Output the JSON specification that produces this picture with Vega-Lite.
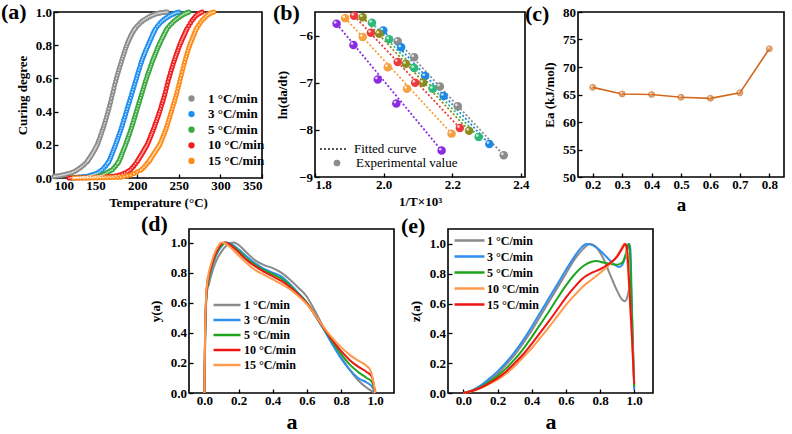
{
  "$schema": "https://vega.github.io/schema/vega-lite/v6.json",
  "background": "white",
  "padding": {"left": 0, "top": 0, "right": 0, "bottom": 0},
  "config": {
    "font": "Liberation Serif",
    "view": {"stroke": "black", "strokeWidth": 1.6},
    "axis": {
      "domain": false, "grid": false, "ticks": true, "tickColor": "black", "tickWidth": 1.3, "tickSize": -4,
      "labelFont": "Liberation Serif", "labelFontWeight": "bold", "labelFontSize": 13, "labelColor": "black", "labelPadding": 5,
      "titleFont": "Liberation Serif", "titleFontWeight": "bold", "titleFontSize": 13, "titleColor": "black", "titlePadding": 4
    },
    "axisY": {"labelPadding": 6.5, "titlePadding": 6},
    "legend": {
      "title": null, "orient": "none", "labelFont": "Liberation Serif", "labelFontWeight": "bold", "labelFontSize": 13,
      "labelColor": "black", "rowPadding": 1.6, "padding": 0
    },
    "title": {"font": "Liberation Serif", "fontWeight": "bold", "fontSize": 22, "color": "black", "anchor": "start", "frame": "group", "offset": 0}
  },
  "datasets": {
    "cure": [
      {"r":"1 °C/min","T":100,"a":0.010},{"r":"1 °C/min","T":102,"a":0.011},{"r":"1 °C/min","T":104,"a":0.012},{"r":"1 °C/min","T":106,"a":0.014},
      {"r":"1 °C/min","T":108,"a":0.015},{"r":"1 °C/min","T":110,"a":0.018},{"r":"1 °C/min","T":112,"a":0.020},{"r":"1 °C/min","T":114,"a":0.022},
      {"r":"1 °C/min","T":116,"a":0.025},{"r":"1 °C/min","T":118,"a":0.027},{"r":"1 °C/min","T":120,"a":0.030},{"r":"1 °C/min","T":122,"a":0.034},
      {"r":"1 °C/min","T":124,"a":0.038},{"r":"1 °C/min","T":126,"a":0.043},{"r":"1 °C/min","T":128,"a":0.050},{"r":"1 °C/min","T":130,"a":0.057},
      {"r":"1 °C/min","T":132,"a":0.064},{"r":"1 °C/min","T":134,"a":0.072},{"r":"1 °C/min","T":136,"a":0.080},{"r":"1 °C/min","T":138,"a":0.090},
      {"r":"1 °C/min","T":140,"a":0.100},{"r":"1 °C/min","T":141,"a":0.107},{"r":"1 °C/min","T":142,"a":0.115},{"r":"1 °C/min","T":143,"a":0.122},
      {"r":"1 °C/min","T":144,"a":0.130},{"r":"1 °C/min","T":145,"a":0.138},{"r":"1 °C/min","T":146,"a":0.146},{"r":"1 °C/min","T":147,"a":0.154},
      {"r":"1 °C/min","T":148,"a":0.163},{"r":"1 °C/min","T":149,"a":0.172},{"r":"1 °C/min","T":150,"a":0.181},{"r":"1 °C/min","T":151,"a":0.190},
      {"r":"1 °C/min","T":152,"a":0.200},{"r":"1 °C/min","T":153,"a":0.213},{"r":"1 °C/min","T":154,"a":0.227},{"r":"1 °C/min","T":155,"a":0.241},
      {"r":"1 °C/min","T":156,"a":0.255},{"r":"1 °C/min","T":157,"a":0.269},{"r":"1 °C/min","T":158,"a":0.284},{"r":"1 °C/min","T":159,"a":0.299},
      {"r":"1 °C/min","T":160,"a":0.315},{"r":"1 °C/min","T":161,"a":0.331},{"r":"1 °C/min","T":162,"a":0.348},{"r":"1 °C/min","T":163,"a":0.365},
      {"r":"1 °C/min","T":164,"a":0.382},{"r":"1 °C/min","T":165,"a":0.400},{"r":"1 °C/min","T":166,"a":0.418},{"r":"1 °C/min","T":167,"a":0.438},
      {"r":"1 °C/min","T":168,"a":0.458},{"r":"1 °C/min","T":169,"a":0.479},{"r":"1 °C/min","T":170,"a":0.500},{"r":"1 °C/min","T":171,"a":0.520},
      {"r":"1 °C/min","T":172,"a":0.541},{"r":"1 °C/min","T":173,"a":0.561},{"r":"1 °C/min","T":174,"a":0.581},{"r":"1 °C/min","T":175,"a":0.600},
      {"r":"1 °C/min","T":176,"a":0.618},{"r":"1 °C/min","T":177,"a":0.635},{"r":"1 °C/min","T":178,"a":0.652},{"r":"1 °C/min","T":179,"a":0.668},
      {"r":"1 °C/min","T":180,"a":0.685},{"r":"1 °C/min","T":181,"a":0.701},{"r":"1 °C/min","T":182,"a":0.717},{"r":"1 °C/min","T":183,"a":0.733},
      {"r":"1 °C/min","T":184,"a":0.749},{"r":"1 °C/min","T":185,"a":0.764},{"r":"1 °C/min","T":186,"a":0.780},{"r":"1 °C/min","T":187,"a":0.794},
      {"r":"1 °C/min","T":188,"a":0.808},{"r":"1 °C/min","T":189,"a":0.820},{"r":"1 °C/min","T":190,"a":0.832},{"r":"1 °C/min","T":191,"a":0.842},
      {"r":"1 °C/min","T":192,"a":0.853},{"r":"1 °C/min","T":193,"a":0.862},{"r":"1 °C/min","T":194,"a":0.872},{"r":"1 °C/min","T":195,"a":0.881},
      {"r":"1 °C/min","T":196,"a":0.890},{"r":"1 °C/min","T":197,"a":0.897},{"r":"1 °C/min","T":198,"a":0.904},{"r":"1 °C/min","T":200,"a":0.916},
      {"r":"1 °C/min","T":202,"a":0.926},{"r":"1 °C/min","T":204,"a":0.936},{"r":"1 °C/min","T":206,"a":0.945},{"r":"1 °C/min","T":208,"a":0.952},
      {"r":"1 °C/min","T":210,"a":0.958},{"r":"1 °C/min","T":212,"a":0.964},{"r":"1 °C/min","T":214,"a":0.970},{"r":"1 °C/min","T":216,"a":0.975},
      {"r":"1 °C/min","T":218,"a":0.980},{"r":"1 °C/min","T":220,"a":0.984},{"r":"1 °C/min","T":222,"a":0.988},{"r":"1 °C/min","T":224,"a":0.991},
      {"r":"1 °C/min","T":226,"a":0.993},{"r":"1 °C/min","T":228,"a":0.995},{"r":"1 °C/min","T":230,"a":0.997},{"r":"1 °C/min","T":232,"a":0.998},
      {"r":"1 °C/min","T":234,"a":0.999},{"r":"1 °C/min","T":236,"a":1.000},

      {"r":"3 °C/min","T":124,"a":0.002},{"r":"3 °C/min","T":126,"a":0.003},{"r":"3 °C/min","T":128,"a":0.004},{"r":"3 °C/min","T":130,"a":0.005},
      {"r":"3 °C/min","T":132,"a":0.006},{"r":"3 °C/min","T":134,"a":0.007},{"r":"3 °C/min","T":136,"a":0.008},{"r":"3 °C/min","T":138,"a":0.009},
      {"r":"3 °C/min","T":140,"a":0.010},{"r":"3 °C/min","T":142,"a":0.013},{"r":"3 °C/min","T":144,"a":0.016},{"r":"3 °C/min","T":146,"a":0.019},
      {"r":"3 °C/min","T":148,"a":0.022},{"r":"3 °C/min","T":150,"a":0.026},{"r":"3 °C/min","T":152,"a":0.030},{"r":"3 °C/min","T":154,"a":0.036},
      {"r":"3 °C/min","T":156,"a":0.043},{"r":"3 °C/min","T":158,"a":0.050},{"r":"3 °C/min","T":160,"a":0.061},{"r":"3 °C/min","T":162,"a":0.073},
      {"r":"3 °C/min","T":164,"a":0.086},{"r":"3 °C/min","T":165,"a":0.093},{"r":"3 °C/min","T":166,"a":0.100},{"r":"3 °C/min","T":167,"a":0.111},
      {"r":"3 °C/min","T":168,"a":0.123},{"r":"3 °C/min","T":169,"a":0.135},{"r":"3 °C/min","T":170,"a":0.148},{"r":"3 °C/min","T":171,"a":0.161},
      {"r":"3 °C/min","T":172,"a":0.174},{"r":"3 °C/min","T":173,"a":0.187},{"r":"3 °C/min","T":174,"a":0.200},{"r":"3 °C/min","T":175,"a":0.214},
      {"r":"3 °C/min","T":176,"a":0.228},{"r":"3 °C/min","T":177,"a":0.242},{"r":"3 °C/min","T":178,"a":0.257},{"r":"3 °C/min","T":179,"a":0.271},
      {"r":"3 °C/min","T":180,"a":0.286},{"r":"3 °C/min","T":181,"a":0.301},{"r":"3 °C/min","T":182,"a":0.317},{"r":"3 °C/min","T":183,"a":0.333},
      {"r":"3 °C/min","T":184,"a":0.350},{"r":"3 °C/min","T":185,"a":0.366},{"r":"3 °C/min","T":186,"a":0.383},{"r":"3 °C/min","T":187,"a":0.400},
      {"r":"3 °C/min","T":188,"a":0.417},{"r":"3 °C/min","T":189,"a":0.433},{"r":"3 °C/min","T":190,"a":0.450},{"r":"3 °C/min","T":191,"a":0.466},
      {"r":"3 °C/min","T":192,"a":0.483},{"r":"3 °C/min","T":193,"a":0.500},{"r":"3 °C/min","T":194,"a":0.517},{"r":"3 °C/min","T":195,"a":0.533},
      {"r":"3 °C/min","T":196,"a":0.550},{"r":"3 °C/min","T":197,"a":0.566},{"r":"3 °C/min","T":198,"a":0.583},{"r":"3 °C/min","T":199,"a":0.600},
      {"r":"3 °C/min","T":200,"a":0.617},{"r":"3 °C/min","T":201,"a":0.633},{"r":"3 °C/min","T":202,"a":0.650},{"r":"3 °C/min","T":203,"a":0.666},
      {"r":"3 °C/min","T":204,"a":0.683},{"r":"3 °C/min","T":205,"a":0.698},{"r":"3 °C/min","T":206,"a":0.713},{"r":"3 °C/min","T":207,"a":0.726},
      {"r":"3 °C/min","T":208,"a":0.740},{"r":"3 °C/min","T":209,"a":0.752},{"r":"3 °C/min","T":210,"a":0.765},{"r":"3 °C/min","T":211,"a":0.776},
      {"r":"3 °C/min","T":212,"a":0.788},{"r":"3 °C/min","T":213,"a":0.799},{"r":"3 °C/min","T":214,"a":0.811},{"r":"3 °C/min","T":215,"a":0.822},
      {"r":"3 °C/min","T":216,"a":0.834},{"r":"3 °C/min","T":217,"a":0.845},{"r":"3 °C/min","T":218,"a":0.857},{"r":"3 °C/min","T":219,"a":0.868},
      {"r":"3 °C/min","T":220,"a":0.879},{"r":"3 °C/min","T":221,"a":0.888},{"r":"3 °C/min","T":222,"a":0.898},{"r":"3 °C/min","T":224,"a":0.913},
      {"r":"3 °C/min","T":226,"a":0.925},{"r":"3 °C/min","T":228,"a":0.936},{"r":"3 °C/min","T":230,"a":0.946},{"r":"3 °C/min","T":232,"a":0.954},
      {"r":"3 °C/min","T":234,"a":0.962},{"r":"3 °C/min","T":236,"a":0.968},{"r":"3 °C/min","T":238,"a":0.975},{"r":"3 °C/min","T":240,"a":0.980},
      {"r":"3 °C/min","T":242,"a":0.985},{"r":"3 °C/min","T":244,"a":0.990},{"r":"3 °C/min","T":246,"a":0.994},{"r":"3 °C/min","T":248,"a":0.997},
      {"r":"3 °C/min","T":250,"a":1.000},

      {"r":"5 °C/min","T":120,"a":0.001},{"r":"5 °C/min","T":124,"a":0.002},{"r":"5 °C/min","T":128,"a":0.002},{"r":"5 °C/min","T":132,"a":0.003},
      {"r":"5 °C/min","T":136,"a":0.004},{"r":"5 °C/min","T":140,"a":0.005},{"r":"5 °C/min","T":144,"a":0.006},{"r":"5 °C/min","T":148,"a":0.008},
      {"r":"5 °C/min","T":150,"a":0.010},{"r":"5 °C/min","T":152,"a":0.012},{"r":"5 °C/min","T":154,"a":0.013},{"r":"5 °C/min","T":156,"a":0.015},
      {"r":"5 °C/min","T":158,"a":0.018},{"r":"5 °C/min","T":160,"a":0.022},{"r":"5 °C/min","T":162,"a":0.027},{"r":"5 °C/min","T":164,"a":0.033},
      {"r":"5 °C/min","T":166,"a":0.039},{"r":"5 °C/min","T":168,"a":0.045},{"r":"5 °C/min","T":170,"a":0.050},{"r":"5 °C/min","T":172,"a":0.061},
      {"r":"5 °C/min","T":174,"a":0.073},{"r":"5 °C/min","T":176,"a":0.086},{"r":"5 °C/min","T":177,"a":0.093},{"r":"5 °C/min","T":178,"a":0.100},
      {"r":"5 °C/min","T":179,"a":0.112},{"r":"5 °C/min","T":180,"a":0.124},{"r":"5 °C/min","T":181,"a":0.136},{"r":"5 °C/min","T":182,"a":0.149},
      {"r":"5 °C/min","T":183,"a":0.162},{"r":"5 °C/min","T":184,"a":0.175},{"r":"5 °C/min","T":185,"a":0.187},{"r":"5 °C/min","T":186,"a":0.200},
      {"r":"5 °C/min","T":187,"a":0.214},{"r":"5 °C/min","T":188,"a":0.228},{"r":"5 °C/min","T":189,"a":0.242},{"r":"5 °C/min","T":190,"a":0.257},
      {"r":"5 °C/min","T":191,"a":0.271},{"r":"5 °C/min","T":192,"a":0.286},{"r":"5 °C/min","T":193,"a":0.301},{"r":"5 °C/min","T":194,"a":0.317},
      {"r":"5 °C/min","T":195,"a":0.333},{"r":"5 °C/min","T":196,"a":0.350},{"r":"5 °C/min","T":197,"a":0.366},{"r":"5 °C/min","T":198,"a":0.383},
      {"r":"5 °C/min","T":199,"a":0.400},{"r":"5 °C/min","T":200,"a":0.417},{"r":"5 °C/min","T":201,"a":0.433},{"r":"5 °C/min","T":202,"a":0.450},
      {"r":"5 °C/min","T":203,"a":0.466},{"r":"5 °C/min","T":204,"a":0.483},{"r":"5 °C/min","T":205,"a":0.500},{"r":"5 °C/min","T":206,"a":0.517},
      {"r":"5 °C/min","T":207,"a":0.533},{"r":"5 °C/min","T":208,"a":0.550},{"r":"5 °C/min","T":209,"a":0.566},{"r":"5 °C/min","T":210,"a":0.583},
      {"r":"5 °C/min","T":211,"a":0.598},{"r":"5 °C/min","T":212,"a":0.614},{"r":"5 °C/min","T":213,"a":0.628},{"r":"5 °C/min","T":214,"a":0.643},
      {"r":"5 °C/min","T":215,"a":0.657},{"r":"5 °C/min","T":216,"a":0.671},{"r":"5 °C/min","T":217,"a":0.685},{"r":"5 °C/min","T":218,"a":0.700},
      {"r":"5 °C/min","T":219,"a":0.712},{"r":"5 °C/min","T":220,"a":0.725},{"r":"5 °C/min","T":221,"a":0.737},{"r":"5 °C/min","T":222,"a":0.750},
      {"r":"5 °C/min","T":223,"a":0.762},{"r":"5 °C/min","T":224,"a":0.775},{"r":"5 °C/min","T":225,"a":0.787},{"r":"5 °C/min","T":226,"a":0.800},
      {"r":"5 °C/min","T":227,"a":0.810},{"r":"5 °C/min","T":228,"a":0.821},{"r":"5 °C/min","T":229,"a":0.831},{"r":"5 °C/min","T":230,"a":0.842},
      {"r":"5 °C/min","T":231,"a":0.852},{"r":"5 °C/min","T":232,"a":0.862},{"r":"5 °C/min","T":233,"a":0.872},{"r":"5 °C/min","T":234,"a":0.882},
      {"r":"5 °C/min","T":235,"a":0.891},{"r":"5 °C/min","T":236,"a":0.900},{"r":"5 °C/min","T":238,"a":0.913},{"r":"5 °C/min","T":240,"a":0.924},
      {"r":"5 °C/min","T":242,"a":0.934},{"r":"5 °C/min","T":244,"a":0.944},{"r":"5 °C/min","T":246,"a":0.952},{"r":"5 °C/min","T":248,"a":0.960},
      {"r":"5 °C/min","T":250,"a":0.967},{"r":"5 °C/min","T":252,"a":0.975},{"r":"5 °C/min","T":254,"a":0.981},{"r":"5 °C/min","T":256,"a":0.987},
      {"r":"5 °C/min","T":258,"a":0.992},{"r":"5 °C/min","T":260,"a":0.996},{"r":"5 °C/min","T":262,"a":1.000},

      {"r":"10 °C/min","T":118,"a":0.000},{"r":"10 °C/min","T":122,"a":0.000},{"r":"10 °C/min","T":126,"a":0.001},{"r":"10 °C/min","T":130,"a":0.001},
      {"r":"10 °C/min","T":134,"a":0.001},{"r":"10 °C/min","T":138,"a":0.002},{"r":"10 °C/min","T":142,"a":0.002},{"r":"10 °C/min","T":146,"a":0.003},
      {"r":"10 °C/min","T":150,"a":0.004},{"r":"10 °C/min","T":154,"a":0.005},{"r":"10 °C/min","T":158,"a":0.006},{"r":"10 °C/min","T":162,"a":0.007},
      {"r":"10 °C/min","T":166,"a":0.008},{"r":"10 °C/min","T":170,"a":0.010},{"r":"10 °C/min","T":174,"a":0.014},{"r":"10 °C/min","T":178,"a":0.018},
      {"r":"10 °C/min","T":182,"a":0.024},{"r":"10 °C/min","T":185,"a":0.030},{"r":"10 °C/min","T":188,"a":0.038},{"r":"10 °C/min","T":190,"a":0.043},
      {"r":"10 °C/min","T":192,"a":0.050},{"r":"10 °C/min","T":194,"a":0.061},{"r":"10 °C/min","T":196,"a":0.073},{"r":"10 °C/min","T":198,"a":0.086},
      {"r":"10 °C/min","T":200,"a":0.100},{"r":"10 °C/min","T":201,"a":0.108},{"r":"10 °C/min","T":202,"a":0.116},{"r":"10 °C/min","T":203,"a":0.124},
      {"r":"10 °C/min","T":204,"a":0.132},{"r":"10 °C/min","T":205,"a":0.140},{"r":"10 °C/min","T":206,"a":0.149},{"r":"10 °C/min","T":207,"a":0.157},
      {"r":"10 °C/min","T":208,"a":0.166},{"r":"10 °C/min","T":209,"a":0.174},{"r":"10 °C/min","T":210,"a":0.183},{"r":"10 °C/min","T":211,"a":0.191},
      {"r":"10 °C/min","T":212,"a":0.200},{"r":"10 °C/min","T":213,"a":0.212},{"r":"10 °C/min","T":214,"a":0.224},{"r":"10 °C/min","T":215,"a":0.236},
      {"r":"10 °C/min","T":216,"a":0.249},{"r":"10 °C/min","T":217,"a":0.261},{"r":"10 °C/min","T":218,"a":0.274},{"r":"10 °C/min","T":219,"a":0.287},
      {"r":"10 °C/min","T":220,"a":0.300},{"r":"10 °C/min","T":221,"a":0.314},{"r":"10 °C/min","T":222,"a":0.328},{"r":"10 °C/min","T":223,"a":0.342},
      {"r":"10 °C/min","T":224,"a":0.357},{"r":"10 °C/min","T":225,"a":0.371},{"r":"10 °C/min","T":226,"a":0.386},{"r":"10 °C/min","T":227,"a":0.401},
      {"r":"10 °C/min","T":228,"a":0.416},{"r":"10 °C/min","T":229,"a":0.433},{"r":"10 °C/min","T":230,"a":0.450},{"r":"10 °C/min","T":231,"a":0.466},
      {"r":"10 °C/min","T":232,"a":0.483},{"r":"10 °C/min","T":233,"a":0.501},{"r":"10 °C/min","T":234,"a":0.520},{"r":"10 °C/min","T":235,"a":0.540},
      {"r":"10 °C/min","T":236,"a":0.560},{"r":"10 °C/min","T":237,"a":0.580},{"r":"10 °C/min","T":238,"a":0.600},{"r":"10 °C/min","T":239,"a":0.616},
      {"r":"10 °C/min","T":240,"a":0.633},{"r":"10 °C/min","T":241,"a":0.650},{"r":"10 °C/min","T":242,"a":0.667},{"r":"10 °C/min","T":243,"a":0.683},
      {"r":"10 °C/min","T":244,"a":0.700},{"r":"10 °C/min","T":245,"a":0.714},{"r":"10 °C/min","T":246,"a":0.729},{"r":"10 °C/min","T":247,"a":0.743},
      {"r":"10 °C/min","T":248,"a":0.757},{"r":"10 °C/min","T":249,"a":0.771},{"r":"10 °C/min","T":250,"a":0.786},{"r":"10 °C/min","T":251,"a":0.799},
      {"r":"10 °C/min","T":252,"a":0.812},{"r":"10 °C/min","T":253,"a":0.823},{"r":"10 °C/min","T":254,"a":0.835},{"r":"10 °C/min","T":255,"a":0.846},
      {"r":"10 °C/min","T":256,"a":0.857},{"r":"10 °C/min","T":257,"a":0.868},{"r":"10 °C/min","T":258,"a":0.879},{"r":"10 °C/min","T":259,"a":0.890},
      {"r":"10 °C/min","T":260,"a":0.900},{"r":"10 °C/min","T":262,"a":0.917},{"r":"10 °C/min","T":264,"a":0.934},{"r":"10 °C/min","T":266,"a":0.950},
      {"r":"10 °C/min","T":268,"a":0.962},{"r":"10 °C/min","T":270,"a":0.974},{"r":"10 °C/min","T":272,"a":0.983},{"r":"10 °C/min","T":274,"a":0.990},
      {"r":"10 °C/min","T":276,"a":0.995},{"r":"10 °C/min","T":278,"a":1.000},

      {"r":"15 °C/min","T":124,"a":0.000},{"r":"15 °C/min","T":128,"a":0.000},{"r":"15 °C/min","T":132,"a":0.000},{"r":"15 °C/min","T":136,"a":0.000},
      {"r":"15 °C/min","T":140,"a":0.000},{"r":"15 °C/min","T":144,"a":0.001},{"r":"15 °C/min","T":148,"a":0.001},{"r":"15 °C/min","T":152,"a":0.001},
      {"r":"15 °C/min","T":156,"a":0.002},{"r":"15 °C/min","T":160,"a":0.002},{"r":"15 °C/min","T":164,"a":0.003},{"r":"15 °C/min","T":168,"a":0.003},
      {"r":"15 °C/min","T":172,"a":0.004},{"r":"15 °C/min","T":176,"a":0.004},{"r":"15 °C/min","T":180,"a":0.005},{"r":"15 °C/min","T":184,"a":0.009},
      {"r":"15 °C/min","T":188,"a":0.013},{"r":"15 °C/min","T":192,"a":0.018},{"r":"15 °C/min","T":196,"a":0.027},{"r":"15 °C/min","T":200,"a":0.037},
      {"r":"15 °C/min","T":204,"a":0.047},{"r":"15 °C/min","T":206,"a":0.054},{"r":"15 °C/min","T":208,"a":0.065},{"r":"15 °C/min","T":210,"a":0.077},
      {"r":"15 °C/min","T":212,"a":0.088},{"r":"15 °C/min","T":214,"a":0.100},{"r":"15 °C/min","T":215,"a":0.107},{"r":"15 °C/min","T":216,"a":0.115},
      {"r":"15 °C/min","T":217,"a":0.122},{"r":"15 °C/min","T":218,"a":0.130},{"r":"15 °C/min","T":219,"a":0.138},{"r":"15 °C/min","T":220,"a":0.146},
      {"r":"15 °C/min","T":221,"a":0.153},{"r":"15 °C/min","T":222,"a":0.161},{"r":"15 °C/min","T":223,"a":0.169},{"r":"15 °C/min","T":224,"a":0.177},
      {"r":"15 °C/min","T":225,"a":0.184},{"r":"15 °C/min","T":226,"a":0.192},{"r":"15 °C/min","T":227,"a":0.201},{"r":"15 °C/min","T":228,"a":0.211},
      {"r":"15 °C/min","T":229,"a":0.223},{"r":"15 °C/min","T":230,"a":0.236},{"r":"15 °C/min","T":231,"a":0.249},{"r":"15 °C/min","T":232,"a":0.262},
      {"r":"15 °C/min","T":233,"a":0.274},{"r":"15 °C/min","T":234,"a":0.287},{"r":"15 °C/min","T":235,"a":0.301},{"r":"15 °C/min","T":236,"a":0.316},
      {"r":"15 °C/min","T":237,"a":0.333},{"r":"15 °C/min","T":238,"a":0.350},{"r":"15 °C/min","T":239,"a":0.366},{"r":"15 °C/min","T":240,"a":0.383},
      {"r":"15 °C/min","T":241,"a":0.399},{"r":"15 °C/min","T":242,"a":0.416},{"r":"15 °C/min","T":243,"a":0.433},{"r":"15 °C/min","T":244,"a":0.450},
      {"r":"15 °C/min","T":245,"a":0.466},{"r":"15 °C/min","T":246,"a":0.483},{"r":"15 °C/min","T":247,"a":0.501},{"r":"15 °C/min","T":248,"a":0.520},
      {"r":"15 °C/min","T":249,"a":0.540},{"r":"15 °C/min","T":250,"a":0.560},{"r":"15 °C/min","T":251,"a":0.580},{"r":"15 °C/min","T":252,"a":0.600},
      {"r":"15 °C/min","T":253,"a":0.620},{"r":"15 °C/min","T":254,"a":0.640},{"r":"15 °C/min","T":255,"a":0.660},{"r":"15 °C/min","T":256,"a":0.680},
      {"r":"15 °C/min","T":257,"a":0.698},{"r":"15 °C/min","T":258,"a":0.717},{"r":"15 °C/min","T":259,"a":0.733},{"r":"15 °C/min","T":260,"a":0.750},
      {"r":"15 °C/min","T":261,"a":0.766},{"r":"15 °C/min","T":262,"a":0.783},{"r":"15 °C/min","T":263,"a":0.797},{"r":"15 °C/min","T":264,"a":0.812},
      {"r":"15 °C/min","T":265,"a":0.824},{"r":"15 °C/min","T":266,"a":0.837},{"r":"15 °C/min","T":267,"a":0.849},{"r":"15 °C/min","T":268,"a":0.862},
      {"r":"15 °C/min","T":269,"a":0.874},{"r":"15 °C/min","T":270,"a":0.887},{"r":"15 °C/min","T":271,"a":0.897},{"r":"15 °C/min","T":272,"a":0.907},
      {"r":"15 °C/min","T":274,"a":0.921},{"r":"15 °C/min","T":276,"a":0.936},{"r":"15 °C/min","T":278,"a":0.950},{"r":"15 °C/min","T":280,"a":0.960},
      {"r":"15 °C/min","T":282,"a":0.970},{"r":"15 °C/min","T":284,"a":0.980},{"r":"15 °C/min","T":286,"a":0.987},{"r":"15 °C/min","T":288,"a":0.993},
      {"r":"15 °C/min","T":290,"a":0.997},{"r":"15 °C/min","T":292,"a":1.000}
    ],
    "arr": [
      {"g":"0.2","x":2.041,"y":-6.12},{"g":"0.2","x":2.089,"y":-6.46},{"g":"0.2","x":2.164,"y":-7.08},{"g":"0.2","x":2.216,"y":-7.50},{"g":"0.2","x":2.350,"y":-8.54},
      {"g":"0.3","x":1.999,"y":-5.89},{"g":"0.3","x":2.051,"y":-6.25},{"g":"0.3","x":2.121,"y":-6.86},{"g":"0.3","x":2.175,"y":-7.28},{"g":"0.3","x":2.308,"y":-8.30},
      {"g":"0.4","x":1.966,"y":-5.73},{"g":"0.4","x":2.016,"y":-6.08},{"g":"0.4","x":2.089,"y":-6.69},{"g":"0.4","x":2.143,"y":-7.13},{"g":"0.4","x":2.277,"y":-8.15},
      {"g":"0.5","x":1.939,"y":-5.61},{"g":"0.5","x":1.987,"y":-5.96},{"g":"0.5","x":2.065,"y":-6.60},{"g":"0.5","x":2.115,"y":-7.00},{"g":"0.5","x":2.249,"y":-8.02},
      {"g":"0.6","x":1.914,"y":-5.58},{"g":"0.6","x":1.963,"y":-5.94},{"g":"0.6","x":2.041,"y":-6.56},{"g":"0.6","x":2.092,"y":-7.00},{"g":"0.6","x":2.222,"y":-7.96},
      {"g":"0.7","x":1.888,"y":-5.63},{"g":"0.7","x":1.939,"y":-6.03},{"g":"0.7","x":2.012,"y":-6.67},{"g":"0.7","x":2.068,"y":-7.13},{"g":"0.7","x":2.198,"y":-8.08},
      {"g":"0.8","x":1.863,"y":-5.75},{"g":"0.8","x":1.912,"y":-6.20},{"g":"0.8","x":1.983,"y":-6.93},{"g":"0.8","x":2.037,"y":-7.44},{"g":"0.8","x":2.169,"y":-8.44}
    ],
    "fit": [
      {"g":"0.2","x":2.041,"y":-6.12},{"g":"0.2","x":2.350,"y":-8.54},
      {"g":"0.3","x":1.999,"y":-5.89},{"g":"0.3","x":2.308,"y":-8.30},
      {"g":"0.4","x":1.966,"y":-5.73},{"g":"0.4","x":2.277,"y":-8.15},
      {"g":"0.5","x":1.939,"y":-5.61},{"g":"0.5","x":2.249,"y":-8.02},
      {"g":"0.6","x":1.914,"y":-5.58},{"g":"0.6","x":2.222,"y":-7.96},
      {"g":"0.7","x":1.888,"y":-5.63},{"g":"0.7","x":2.198,"y":-8.08},
      {"g":"0.8","x":1.863,"y":-5.75},{"g":"0.8","x":2.169,"y":-8.44}
    ],
    "ea": [
      {"a":0.2,"Ea":66.3},{"a":0.3,"Ea":65.1},{"a":0.4,"Ea":65.0},{"a":0.5,"Ea":64.5},{"a":0.6,"Ea":64.3},{"a":0.7,"Ea":65.3},{"a":0.8,"Ea":73.3}
    ],
    "gap": [{}],
    "ya": [
      {"r":"1 °C/min","a":0,"v":0},{"r":"1 °C/min","a":0.008,"v":0.55},{"r":"1 °C/min","a":0.018,"v":0.77},{"r":"1 °C/min","a":0.024,"v":0.71},
      {"r":"1 °C/min","a":0.03,"v":0.74},{"r":"1 °C/min","a":0.05,"v":0.82},{"r":"1 °C/min","a":0.07,"v":0.88},{"r":"1 °C/min","a":0.1,"v":0.94},
      {"r":"1 °C/min","a":0.13,"v":0.98},{"r":"1 °C/min","a":0.17,"v":1.0},{"r":"1 °C/min","a":0.2,"v":0.985},{"r":"1 °C/min","a":0.25,"v":0.93},
      {"r":"1 °C/min","a":0.3,"v":0.88},{"r":"1 °C/min","a":0.35,"v":0.85},{"r":"1 °C/min","a":0.4,"v":0.83},{"r":"1 °C/min","a":0.45,"v":0.80},
      {"r":"1 °C/min","a":0.5,"v":0.755},{"r":"1 °C/min","a":0.55,"v":0.70},{"r":"1 °C/min","a":0.6,"v":0.64},{"r":"1 °C/min","a":0.65,"v":0.54},
      {"r":"1 °C/min","a":0.7,"v":0.43},{"r":"1 °C/min","a":0.75,"v":0.33},{"r":"1 °C/min","a":0.8,"v":0.24},{"r":"1 °C/min","a":0.85,"v":0.155},
      {"r":"1 °C/min","a":0.9,"v":0.085},{"r":"1 °C/min","a":0.95,"v":0.035},{"r":"1 °C/min","a":0.98,"v":0.012},{"r":"1 °C/min","a":1.0,"v":0},

      {"r":"3 °C/min","a":0,"v":0},{"r":"3 °C/min","a":0.004,"v":0.35},{"r":"3 °C/min","a":0.01,"v":0.6},{"r":"3 °C/min","a":0.02,"v":0.72},
      {"r":"3 °C/min","a":0.04,"v":0.82},{"r":"3 °C/min","a":0.06,"v":0.89},{"r":"3 °C/min","a":0.08,"v":0.94},{"r":"3 °C/min","a":0.1,"v":0.975},
      {"r":"3 °C/min","a":0.13,"v":1.0},{"r":"3 °C/min","a":0.16,"v":0.99},{"r":"3 °C/min","a":0.2,"v":0.955},{"r":"3 °C/min","a":0.25,"v":0.905},
      {"r":"3 °C/min","a":0.3,"v":0.86},{"r":"3 °C/min","a":0.35,"v":0.825},{"r":"3 °C/min","a":0.4,"v":0.80},{"r":"3 °C/min","a":0.45,"v":0.775},
      {"r":"3 °C/min","a":0.5,"v":0.725},{"r":"3 °C/min","a":0.55,"v":0.665},{"r":"3 °C/min","a":0.6,"v":0.60},{"r":"3 °C/min","a":0.65,"v":0.51},
      {"r":"3 °C/min","a":0.7,"v":0.42},{"r":"3 °C/min","a":0.75,"v":0.32},{"r":"3 °C/min","a":0.8,"v":0.23},{"r":"3 °C/min","a":0.85,"v":0.155},
      {"r":"3 °C/min","a":0.9,"v":0.10},{"r":"3 °C/min","a":0.95,"v":0.07},{"r":"3 °C/min","a":0.98,"v":0.045},{"r":"3 °C/min","a":1.0,"v":0},

      {"r":"5 °C/min","a":0,"v":0},{"r":"5 °C/min","a":0.004,"v":0.35},{"r":"5 °C/min","a":0.01,"v":0.6},{"r":"5 °C/min","a":0.02,"v":0.72},
      {"r":"5 °C/min","a":0.04,"v":0.83},{"r":"5 °C/min","a":0.06,"v":0.9},{"r":"5 °C/min","a":0.08,"v":0.95},{"r":"5 °C/min","a":0.1,"v":0.98},
      {"r":"5 °C/min","a":0.12,"v":1.0},{"r":"5 °C/min","a":0.15,"v":0.99},{"r":"5 °C/min","a":0.2,"v":0.945},{"r":"5 °C/min","a":0.25,"v":0.89},
      {"r":"5 °C/min","a":0.3,"v":0.85},{"r":"5 °C/min","a":0.35,"v":0.815},{"r":"5 °C/min","a":0.4,"v":0.79},{"r":"5 °C/min","a":0.45,"v":0.76},
      {"r":"5 °C/min","a":0.5,"v":0.715},{"r":"5 °C/min","a":0.55,"v":0.66},{"r":"5 °C/min","a":0.6,"v":0.60},{"r":"5 °C/min","a":0.65,"v":0.515},
      {"r":"5 °C/min","a":0.7,"v":0.425},{"r":"5 °C/min","a":0.75,"v":0.34},{"r":"5 °C/min","a":0.8,"v":0.26},{"r":"5 °C/min","a":0.85,"v":0.19},
      {"r":"5 °C/min","a":0.9,"v":0.14},{"r":"5 °C/min","a":0.95,"v":0.10},{"r":"5 °C/min","a":0.98,"v":0.075},{"r":"5 °C/min","a":1.0,"v":0},

      {"r":"10 °C/min","a":0,"v":0},{"r":"10 °C/min","a":0.004,"v":0.38},{"r":"10 °C/min","a":0.01,"v":0.62},{"r":"10 °C/min","a":0.02,"v":0.74},
      {"r":"10 °C/min","a":0.04,"v":0.84},{"r":"10 °C/min","a":0.06,"v":0.91},{"r":"10 °C/min","a":0.08,"v":0.96},{"r":"10 °C/min","a":0.1,"v":0.99},
      {"r":"10 °C/min","a":0.12,"v":1.0},{"r":"10 °C/min","a":0.15,"v":0.985},{"r":"10 °C/min","a":0.2,"v":0.935},{"r":"10 °C/min","a":0.25,"v":0.88},
      {"r":"10 °C/min","a":0.3,"v":0.84},{"r":"10 °C/min","a":0.35,"v":0.805},{"r":"10 °C/min","a":0.4,"v":0.775},{"r":"10 °C/min","a":0.45,"v":0.745},
      {"r":"10 °C/min","a":0.5,"v":0.705},{"r":"10 °C/min","a":0.55,"v":0.655},{"r":"10 °C/min","a":0.6,"v":0.595},{"r":"10 °C/min","a":0.65,"v":0.515},
      {"r":"10 °C/min","a":0.7,"v":0.43},{"r":"10 °C/min","a":0.75,"v":0.35},{"r":"10 °C/min","a":0.8,"v":0.28},{"r":"10 °C/min","a":0.85,"v":0.22},
      {"r":"10 °C/min","a":0.9,"v":0.175},{"r":"10 °C/min","a":0.95,"v":0.14},{"r":"10 °C/min","a":0.98,"v":0.11},{"r":"10 °C/min","a":1.0,"v":0},

      {"r":"15 °C/min","a":0,"v":0},{"r":"15 °C/min","a":0.004,"v":0.4},{"r":"15 °C/min","a":0.01,"v":0.64},{"r":"15 °C/min","a":0.02,"v":0.76},
      {"r":"15 °C/min","a":0.04,"v":0.86},{"r":"15 °C/min","a":0.06,"v":0.93},{"r":"15 °C/min","a":0.08,"v":0.975},{"r":"15 °C/min","a":0.1,"v":1.0},
      {"r":"15 °C/min","a":0.12,"v":0.995},{"r":"15 °C/min","a":0.15,"v":0.97},{"r":"15 °C/min","a":0.2,"v":0.915},{"r":"15 °C/min","a":0.25,"v":0.86},
      {"r":"15 °C/min","a":0.3,"v":0.815},{"r":"15 °C/min","a":0.35,"v":0.785},{"r":"15 °C/min","a":0.4,"v":0.755},{"r":"15 °C/min","a":0.45,"v":0.725},
      {"r":"15 °C/min","a":0.5,"v":0.69},{"r":"15 °C/min","a":0.55,"v":0.645},{"r":"15 °C/min","a":0.6,"v":0.59},{"r":"15 °C/min","a":0.65,"v":0.515},
      {"r":"15 °C/min","a":0.7,"v":0.435},{"r":"15 °C/min","a":0.75,"v":0.365},{"r":"15 °C/min","a":0.8,"v":0.305},{"r":"15 °C/min","a":0.85,"v":0.255},
      {"r":"15 °C/min","a":0.9,"v":0.215},{"r":"15 °C/min","a":0.95,"v":0.18},{"r":"15 °C/min","a":0.97,"v":0.155},{"r":"15 °C/min","a":0.99,"v":0.07},
      {"r":"15 °C/min","a":1.0,"v":0}
    ],
    "za": [
      {"r":"1 °C/min","a":0,"v":0},{"r":"1 °C/min","a":0.05,"v":0.015},{"r":"1 °C/min","a":0.1,"v":0.045},{"r":"1 °C/min","a":0.15,"v":0.085},
      {"r":"1 °C/min","a":0.2,"v":0.13},{"r":"1 °C/min","a":0.25,"v":0.19},{"r":"1 °C/min","a":0.3,"v":0.255},{"r":"1 °C/min","a":0.35,"v":0.335},
      {"r":"1 °C/min","a":0.4,"v":0.42},{"r":"1 °C/min","a":0.45,"v":0.515},{"r":"1 °C/min","a":0.5,"v":0.61},{"r":"1 °C/min","a":0.55,"v":0.705},
      {"r":"1 °C/min","a":0.6,"v":0.80},{"r":"1 °C/min","a":0.65,"v":0.895},{"r":"1 °C/min","a":0.7,"v":0.965},{"r":"1 °C/min","a":0.74,"v":1.0},
      {"r":"1 °C/min","a":0.78,"v":0.975},{"r":"1 °C/min","a":0.82,"v":0.90},{"r":"1 °C/min","a":0.86,"v":0.79},{"r":"1 °C/min","a":0.9,"v":0.685},
      {"r":"1 °C/min","a":0.93,"v":0.625},{"r":"1 °C/min","a":0.945,"v":0.615},{"r":"1 °C/min","a":0.96,"v":0.645},{"r":"1 °C/min","a":0.97,"v":0.70},

      {"r":"3 °C/min","a":0,"v":0},{"r":"3 °C/min","a":0.05,"v":0.018},{"r":"3 °C/min","a":0.1,"v":0.05},{"r":"3 °C/min","a":0.15,"v":0.095},
      {"r":"3 °C/min","a":0.2,"v":0.145},{"r":"3 °C/min","a":0.25,"v":0.205},{"r":"3 °C/min","a":0.3,"v":0.275},{"r":"3 °C/min","a":0.35,"v":0.355},
      {"r":"3 °C/min","a":0.4,"v":0.445},{"r":"3 °C/min","a":0.45,"v":0.54},{"r":"3 °C/min","a":0.5,"v":0.635},{"r":"3 °C/min","a":0.55,"v":0.73},
      {"r":"3 °C/min","a":0.6,"v":0.825},{"r":"3 °C/min","a":0.65,"v":0.915},{"r":"3 °C/min","a":0.69,"v":0.975},{"r":"3 °C/min","a":0.72,"v":1.0},
      {"r":"3 °C/min","a":0.76,"v":0.99},{"r":"3 °C/min","a":0.8,"v":0.955},{"r":"3 °C/min","a":0.84,"v":0.91},{"r":"3 °C/min","a":0.88,"v":0.865},
      {"r":"3 °C/min","a":0.91,"v":0.845},{"r":"3 °C/min","a":0.93,"v":0.86},{"r":"3 °C/min","a":0.95,"v":0.92},{"r":"3 °C/min","a":0.965,"v":0.98},
      {"r":"3 °C/min","a":0.972,"v":1.0},{"r":"3 °C/min","a":0.978,"v":0.96},{"r":"3 °C/min","a":0.986,"v":0.6},{"r":"3 °C/min","a":0.994,"v":0.25},
      {"r":"3 °C/min","a":1.0,"v":0.02},

      {"r":"5 °C/min","a":0,"v":0},{"r":"5 °C/min","a":0.05,"v":0.015},{"r":"5 °C/min","a":0.1,"v":0.04},{"r":"5 °C/min","a":0.15,"v":0.075},
      {"r":"5 °C/min","a":0.2,"v":0.115},{"r":"5 °C/min","a":0.25,"v":0.165},{"r":"5 °C/min","a":0.3,"v":0.225},{"r":"5 °C/min","a":0.35,"v":0.295},
      {"r":"5 °C/min","a":0.4,"v":0.375},{"r":"5 °C/min","a":0.45,"v":0.46},{"r":"5 °C/min","a":0.5,"v":0.545},{"r":"5 °C/min","a":0.55,"v":0.635},
      {"r":"5 °C/min","a":0.6,"v":0.72},{"r":"5 °C/min","a":0.65,"v":0.795},{"r":"5 °C/min","a":0.7,"v":0.85},{"r":"5 °C/min","a":0.75,"v":0.88},
      {"r":"5 °C/min","a":0.78,"v":0.885},{"r":"5 °C/min","a":0.82,"v":0.875},{"r":"5 °C/min","a":0.86,"v":0.865},{"r":"5 °C/min","a":0.9,"v":0.86},
      {"r":"5 °C/min","a":0.93,"v":0.875},{"r":"5 °C/min","a":0.95,"v":0.93},{"r":"5 °C/min","a":0.965,"v":1.0},{"r":"5 °C/min","a":0.972,"v":0.99},
      {"r":"5 °C/min","a":0.985,"v":0.6},{"r":"5 °C/min","a":0.993,"v":0.3},{"r":"5 °C/min","a":1.0,"v":0.04},

      {"r":"10 °C/min","a":0,"v":0},{"r":"10 °C/min","a":0.05,"v":0.012},{"r":"10 °C/min","a":0.1,"v":0.032},{"r":"10 °C/min","a":0.15,"v":0.06},
      {"r":"10 °C/min","a":0.2,"v":0.09},{"r":"10 °C/min","a":0.25,"v":0.13},{"r":"10 °C/min","a":0.3,"v":0.18},{"r":"10 °C/min","a":0.35,"v":0.24},
      {"r":"10 °C/min","a":0.4,"v":0.30},{"r":"10 °C/min","a":0.45,"v":0.37},{"r":"10 °C/min","a":0.5,"v":0.44},{"r":"10 °C/min","a":0.55,"v":0.515},
      {"r":"10 °C/min","a":0.6,"v":0.59},{"r":"10 °C/min","a":0.65,"v":0.655},{"r":"10 °C/min","a":0.7,"v":0.715},{"r":"10 °C/min","a":0.75,"v":0.76},
      {"r":"10 °C/min","a":0.8,"v":0.805},{"r":"10 °C/min","a":0.85,"v":0.855},{"r":"10 °C/min","a":0.9,"v":0.92},{"r":"10 °C/min","a":0.925,"v":0.97},
      {"r":"10 °C/min","a":0.94,"v":1.0},{"r":"10 °C/min","a":0.95,"v":0.985},{"r":"10 °C/min","a":0.965,"v":0.8},{"r":"10 °C/min","a":0.98,"v":0.5},
      {"r":"10 °C/min","a":1.0,"v":0.07},

      {"r":"15 °C/min","a":0,"v":0},{"r":"15 °C/min","a":0.05,"v":0.013},{"r":"15 °C/min","a":0.1,"v":0.035},{"r":"15 °C/min","a":0.15,"v":0.065},
      {"r":"15 °C/min","a":0.2,"v":0.10},{"r":"15 °C/min","a":0.25,"v":0.145},{"r":"15 °C/min","a":0.3,"v":0.20},{"r":"15 °C/min","a":0.35,"v":0.26},
      {"r":"15 °C/min","a":0.4,"v":0.33},{"r":"15 °C/min","a":0.45,"v":0.405},{"r":"15 °C/min","a":0.5,"v":0.48},{"r":"15 °C/min","a":0.55,"v":0.56},
      {"r":"15 °C/min","a":0.6,"v":0.64},{"r":"15 °C/min","a":0.65,"v":0.71},{"r":"15 °C/min","a":0.7,"v":0.77},{"r":"15 °C/min","a":0.75,"v":0.805},
      {"r":"15 °C/min","a":0.8,"v":0.83},{"r":"15 °C/min","a":0.85,"v":0.865},{"r":"15 °C/min","a":0.9,"v":0.915},{"r":"15 °C/min","a":0.93,"v":0.97},
      {"r":"15 °C/min","a":0.948,"v":1.0},{"r":"15 °C/min","a":0.958,"v":0.97},{"r":"15 °C/min","a":0.97,"v":0.75},{"r":"15 °C/min","a":0.985,"v":0.42},
      {"r":"15 °C/min","a":1.0,"v":0.06}
    ]
  },
  "vconcat": [
    {
      "hconcat": [
        {
          "width": 208, "height": 166,
          "title": {"text": "(a)", "dx": -53, "dy": 22},
          "data": {"name": "cure"},
          "encoding": {
            "x": {"field": "T", "type": "quantitative", "scale": {"domain": [100, 350], "nice": false},
                  "axis": {"values": [100, 150, 200, 250, 300, 350], "title": "Temperature (°C)"}},
            "y": {"field": "a", "type": "quantitative", "scale": {"domain": [0, 1], "nice": false},
                  "axis": {"values": [0, 0.2, 0.4, 0.6, 0.8, 1.0], "format": ".1f", "title": "Curing degree"}}
          },
          "layer": [
            {
              "mark": {"type": "circle", "size": 26, "opacity": 1},
              "encoding": {
                "color": {"field": "r", "type": "nominal",
                          "scale": {"domain": ["1 °C/min", "3 °C/min", "5 °C/min", "10 °C/min", "15 °C/min"],
                                    "range": ["#8c8c8c", "#1f8ef1", "#3aa83e", "#f21d1d", "#ff8c1a"]},
                          "legend": {"legendX": 131, "legendY": 80, "symbolType": "circle", "symbolSize": 40, "labelOffset": 10}}
              }
            },
            {
              "mark": {"type": "circle", "size": 3, "color": "white", "opacity": 0.7}
            }
          ]
        },
        {
          "width": 210, "height": 165,
          "title": {"text": "(b)", "dx": -42, "dy": 17},
          "layer": [
            {
              "data": {"name": "fit"},
              "mark": {"type": "line", "strokeWidth": 1.8},
              "encoding": {
                "x": {"field": "x", "type": "quantitative", "scale": {"domain": [1.8, 2.412], "nice": false, "zero": false},
                      "axis": {"values": [1.8, 1.9, 2.0, 2.1, 2.2, 2.3, 2.4], "format": ".1f", "title": "1/T×10³"}},
                "y": {"field": "y", "type": "quantitative", "scale": {"domain": [-9, -5.5], "nice": false, "zero": false},
                      "axis": {"values": [-9, -8, -7, -6], "format": "d", "title": "ln(da/dt)", "titlePadding": 9}},
                "stroke": {"field": "g", "type": "nominal",
                           "scale": {"domain": ["0.2", "0.3", "0.4", "0.5", "0.6", "0.7", "0.8"],
                                     "range": ["#8c8c8c", "#1e88e5", "#2fb87a", "#8c8c1c", "#ea3c3c", "#f7a040", "#8a2be2"]},
                           "legend": null},
                "strokeDash": {"datum": "Fitted curve", "type": "nominal", "scale": {"domain": ["Fitted curve"], "range": [[2, 2]]},
                               "legend": {"legendX": 12, "legendY": 130.5, "symbolType": "M-3,0H3", "symbolSize": 81, "symbolStrokeColor": "#555",
                                          "symbolStrokeWidth": 1.8, "labelOffset": 14, "labelFontWeight": "normal"}}
              }
            },
            {
              "data": {"name": "arr"},
              "mark": {"type": "point", "filled": true, "size": 72, "opacity": 1},
              "encoding": {
                "x": {"field": "x", "type": "quantitative"},
                "y": {"field": "y", "type": "quantitative"},
                "color": {"field": "g", "type": "nominal",
                          "scale": {"domain": ["0.2", "0.3", "0.4", "0.5", "0.6", "0.7", "0.8"],
                                    "range": ["#8c8c8c", "#1e88e5", "#2fb87a", "#8c8c1c", "#ea3c3c", "#f7a040", "#8a2be2"]},
                          "legend": {"legendX": 164, "legendY": 4, "symbolType": "circle", "symbolSize": 64, "labelOffset": 12, "rowPadding": 2.3}},
                "shape": {"datum": "Experimental value", "type": "nominal", "scale": {"domain": ["Experimental value"], "range": ["circle"]},
                          "legend": {"legendX": 15.5, "legendY": 144.5, "symbolFillColor": "#8c8c8c", "symbolStrokeWidth": 0, "symbolSize": 45,
                                     "labelOffset": 12.5, "labelFontWeight": "normal"}}
              }
            },
            {
              "data": {"name": "arr"},
              "mark": {"type": "circle", "size": 7, "color": "white", "opacity": 0.75, "xOffset": -1.4, "yOffset": -1.4},
              "encoding": {
                "x": {"field": "x", "type": "quantitative"},
                "y": {"field": "y", "type": "quantitative"}
              }
            }
          ]
        },
        {
          "width": 206, "height": 165,
          "title": {"text": "(c)", "dx": -53, "dy": 24},
          "data": {"name": "ea"},
          "encoding": {
            "x": {"field": "a", "type": "quantitative", "scale": {"domain": [0.15, 0.85], "nice": false, "zero": false},
                  "axis": {"values": [0.2, 0.3, 0.4, 0.5, 0.6, 0.7, 0.8], "format": ".1f", "title": "a", "titleFontSize": 19}},
            "y": {"field": "Ea", "type": "quantitative", "scale": {"domain": [50, 80], "nice": false, "zero": false},
                  "axis": {"values": [50, 55, 60, 65, 70, 75, 80], "title": "Ea (kJ/mol)"}}
          },
          "layer": [
            {"mark": {"type": "line", "color": "#d2691e", "strokeWidth": 1.6}},
            {"mark": {"type": "point", "filled": true, "size": 36, "color": "#e07b2a", "stroke": "#b5561a", "strokeWidth": 0.8}},
            {"mark": {"type": "circle", "size": 4, "color": "white", "opacity": 0.7, "xOffset": -1, "yOffset": -1}}
          ]
        }
      ],
      "spacing": 53,
      "bounds": "flush",
      "resolve": {"scale": {"color": "independent", "stroke": "independent", "shape": "independent", "strokeDash": "independent", "x": "independent", "y": "independent"}}
    },
    {
      "hconcat": [
        {
          "width": 81, "height": 164,
          "view": {"stroke": null},
          "data": {"name": "gap"},
          "mark": {"type": "point", "opacity": 0},
          "encoding": {}
        },
        {
          "width": 205, "height": 164,
          "title": {"text": "(d)", "dx": -48, "dy": 11},
          "data": {"name": "ya"},
          "mark": {"type": "line", "strokeWidth": 2, "interpolate": "monotone"},
          "encoding": {
            "x": {"field": "a", "type": "quantitative", "scale": {"domain": [-0.09, 1.11], "nice": false, "zero": false},
                  "axis": {"values": [0, 0.2, 0.4, 0.6, 0.8, 1.0], "format": ".1f", "title": "a", "titleFontSize": 22}},
            "y": {"field": "v", "type": "quantitative", "scale": {"domain": [0, 1.09], "nice": false},
                  "axis": {"values": [0, 0.2, 0.4, 0.6, 0.8, 1.0], "format": ".1f", "title": "y(a)", "titlePadding": 8}},
            "color": {"field": "r", "type": "nominal",
                      "scale": {"domain": ["1 °C/min", "3 °C/min", "5 °C/min", "10 °C/min", "15 °C/min"],
                                "range": ["#8a8a8a", "#2e8ff0", "#1ea51e", "#ee1515", "#ff9a4d"]},
                      "legend": {"legendX": 32, "legendY": 70, "symbolType": "M-3,0H3", "symbolSize": 81, "symbolStrokeWidth": 2.5,
                                 "labelOffset": 11, "labelFontSize": 12, "rowPadding": 3}}
          }
        },
        {
          "width": 205, "height": 164,
          "title": {"text": "(e)", "dx": -47, "dy": 13},
          "data": {"name": "za"},
          "mark": {"type": "line", "strokeWidth": 2, "interpolate": "monotone"},
          "encoding": {
            "x": {"field": "a", "type": "quantitative", "scale": {"domain": [-0.09, 1.11], "nice": false, "zero": false},
                  "axis": {"values": [0, 0.2, 0.4, 0.6, 0.8, 1.0], "format": ".1f", "title": "a", "titleFontSize": 22}},
            "y": {"field": "v", "type": "quantitative", "scale": {"domain": [0, 1.1], "nice": false},
                  "axis": {"values": [0, 0.2, 0.4, 0.6, 0.8, 1.0], "format": ".1f", "title": "z(a)", "titlePadding": 7}},
            "color": {"field": "r", "type": "nominal",
                      "scale": {"domain": ["1 °C/min", "3 °C/min", "5 °C/min", "10 °C/min", "15 °C/min"],
                                "range": ["#8a8a8a", "#2e8ff0", "#1ea51e", "#ff9a4d", "#ee1515"]},
                      "legend": {"legendX": 15, "legendY": 5, "symbolType": "M-3,0H3", "symbolSize": 100, "symbolStrokeWidth": 2.5,
                                 "labelOffset": 11, "labelFontSize": 12, "rowPadding": 3}}
          }
        }
      ],
      "spacing": 54,
      "bounds": "flush",
      "resolve": {"scale": {"color": "independent", "x": "independent", "y": "independent"}}
    }
  ],
  "spacing": -3,
  "resolve": {"scale": {"color": "independent", "stroke": "independent", "shape": "independent", "strokeDash": "independent", "x": "independent", "y": "independent"}}
}
